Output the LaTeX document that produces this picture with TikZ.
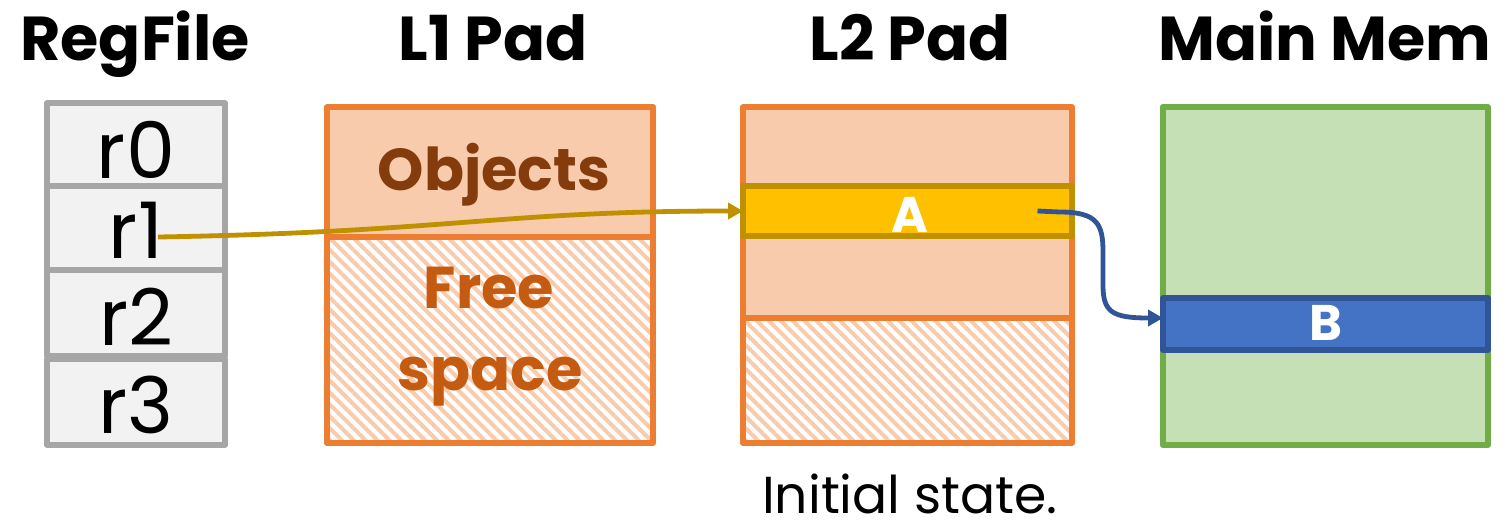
\documentclass[tikz,border=0pt]{standalone}
\usepackage{fontspec}
\setmainfont{Poppins}
\usetikzlibrary{patterns.meta,arrows.meta}

\definecolor{regfill}{HTML}{F2F2F2}
\definecolor{reggray}{HTML}{A6A6A6}
\definecolor{padorange}{HTML}{ED7D31}
\definecolor{padfill}{HTML}{F8CBAD}
\definecolor{objbrown}{HTML}{843C0C}
\definecolor{freeorange}{HTML}{C55A11}
\definecolor{gold}{HTML}{FFC000}
\definecolor{golddark}{HTML}{BF9000}
\definecolor{memfill}{HTML}{C5E0B4}
\definecolor{memgreen}{HTML}{70AD47}
\definecolor{bfill}{HTML}{4472C4}
\definecolor{bdark}{HTML}{2F5597}

% a box given by its top-left and bottom-right corners (in drawing units)
\newcommand\membox[6]{%
  \node[#2, anchor=north west, minimum width={(#5-#3)*0.5pt},
        minimum height={(#6-#4)*0.5pt}] (#1) at (#3,#4) {};}

\tikzset{
  boxbase/.style={rectangle, inner sep=0pt, outer sep=0pt, line width=2.7pt, line join=round},
  regcell/.style={boxbase, draw=reggray, fill=regfill},
  padsolid/.style={boxbase, draw=padorange, fill=padfill},
  padfree/.style={boxbase, draw=padorange,
     pattern={Lines[angle=-45,distance=4.2pt,line width=2pt]}, pattern color=padfill},
  aband/.style={boxbase, draw=golddark, fill=gold},
  memarea/.style={boxbase, draw=memgreen, fill=memfill},
  bband/.style={boxbase, draw=bdark, fill=bfill},
  title/.style={anchor=base, inner sep=0pt, font=\fontsize{31}{36}\selectfont\bfseries},
  regtxt/.style={anchor=base, inner sep=0pt, font=\fontsize{39}{44}\selectfont},
  padtxt/.style={anchor=base, inner sep=0pt, font=\fontsize{29.5}{34}\selectfont\bfseries},
  bandtxt/.style={anchor=base, inner sep=0pt, text=white, font=\fontsize{25}{30}\selectfont\bfseries},
  captxt/.style={anchor=base, inner sep=0pt, font=\fontsize{26}{30}\selectfont},
  ptr/.style={line width=2.4pt, -{Triangle[length=7.5pt,width=8pt]}},
}

\begin{document}
\begin{tikzpicture}[x=0.5pt, y=-0.5pt]
\useasboundingbox (0,0) rectangle (1506,526);

% column titles
\node[title] (tReg)  at (135,60)  {RegFile};
\node[title] (tL1)   at (493,60)  {L1 Pad};
\node[title] (tL2)   at (910,60)  {L2 Pad};
\node[title] (tMain) at (1325,60) {Main Mem};

% register file
\membox{r0}{regcell}{47}{103}{225}{186}
\membox{r1}{regcell}{47}{186}{225}{270}
\membox{r2}{regcell}{47}{270}{225}{356}
\membox{r3}{regcell}{47}{359}{225}{445}
\node[regtxt] (r0t) at (136,178) {r0};
\node[regtxt] (r1t) at (136,258) {r1};
\node[regtxt] (r2t) at (136,345) {r2};
\node[regtxt] (r3t) at (136,433) {r3};

% L1 scratchpad
\membox{l1obj}{padsolid}{327}{107}{653}{237}
\membox{l1free}{padfree}{327}{237}{653}{443}
\node[padtxt, text=objbrown]   (objt)   at (494,190) {Objects};
\node[padtxt, text=freeorange] (freet)  at (489,308) {Free};
\node[padtxt, text=freeorange] (spacet) at (490,390) {space};

% L2 scratchpad
\membox{l2top}{padsolid}{743}{107}{1072}{318}
\membox{l2free}{padfree}{743}{318}{1072}{443}
\membox{A}{aband}{743}{186}{1072}{236}
\node[bandtxt] (At) at (910,232) {A};

% main memory
\membox{mem}{memarea}{1163}{107}{1488}{445}
\membox{B}{bband}{1163}{298}{1488}{350}
\node[bandtxt] (Bt) at (1326,340) {B};

% pointers
\draw[ptr, golddark] ([xshift=11pt,yshift=-4.5pt]r1.center)
  .. controls (450,232) and (500,211) .. (A.west);
\draw[ptr, bdark] ([xshift=65pt]A.center) -- (1060,212)
  .. controls (1098,212) and (1103,225) .. (1103,252) -- (1103,285)
  .. controls (1103,312) and (1112,318) .. ([yshift=3pt]B.west);

% caption
\node[captxt] (cap) at (910,513) {Initial state.};
\end{tikzpicture}
\end{document}
